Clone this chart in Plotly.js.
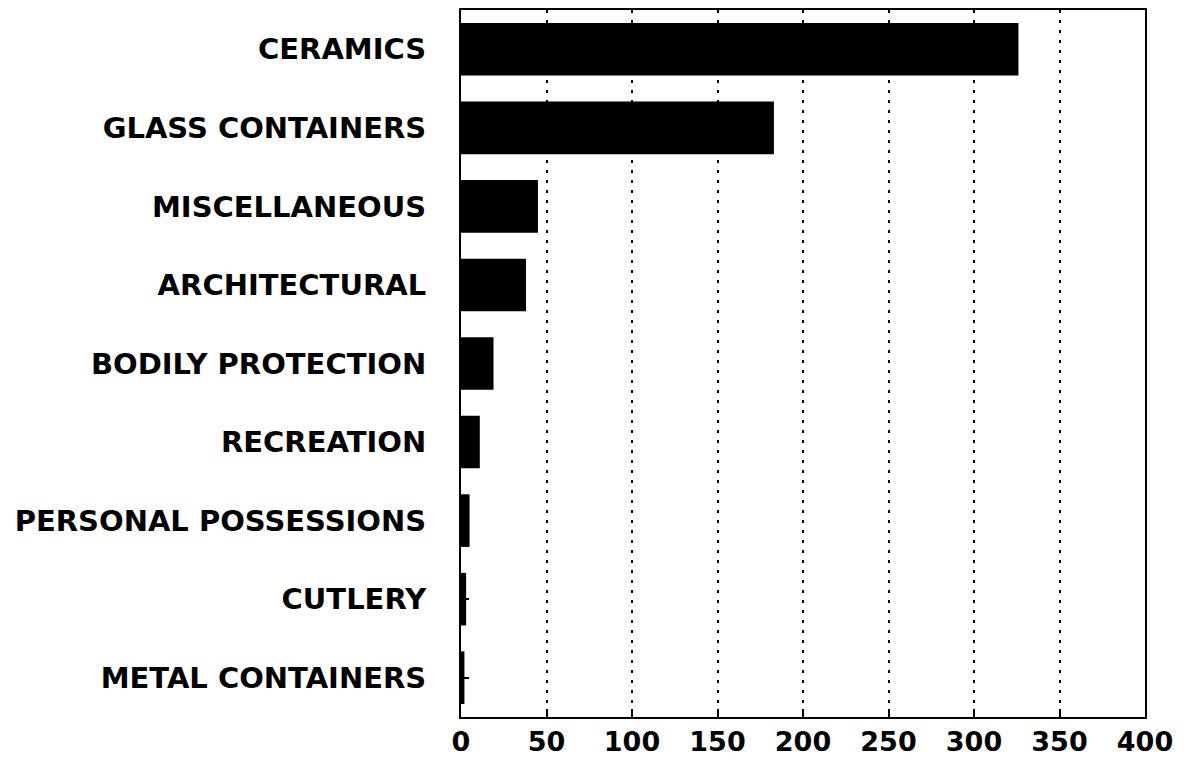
<!DOCTYPE html>
<html>
<head>
<meta charset="utf-8">
<script src="https://cdn.plot.ly/plotly-3.0.1.min.js"></script>
<style>html,body{margin:0;padding:0;background:#fff;}#chart{width:1188px;height:766px;}</style>
</head>
<body>
<div id="chart"></div>
<script>
const categories = ["CERAMICS","GLASS CONTAINERS","MISCELLANEOUS","ARCHITECTURAL","BODILY PROTECTION","RECREATION","PERSONAL POSSESSIONS","CUTLERY","METAL CONTAINERS"];
const counts = [326, 183, 45, 38, 19, 11, 5, 3, 2];
const xTicks = [0, 50, 100, 150, 200, 250, 300, 350, 400];

const trace = {
  type: 'bar',
  orientation: 'h',
  y: categories,
  x: counts,
  marker: {color: '#000', line: {width: 0}},
  width: 0.67,
  hoverinfo: 'x+y'
};

const FONT = 'DejaVu Sans, Liberation Sans, Arial, sans-serif';

const layout = {
  width: 1188, height: 766,
  margin: {l: 461, r: 43, t: 10, b: 49},
  paper_bgcolor: '#fff', plot_bgcolor: '#fff',
  showlegend: false,
  font: {family: FONT, color: '#000'},
  xaxis: {
    range: [0, 400],
    tickvals: xTicks,
    ticktext: xTicks.map(String),
    showgrid: true, gridcolor: '#000', gridwidth: 2, griddash: '3px,7px',
    zeroline: false,
    showline: true, linecolor: '#000', linewidth: 2, mirror: true,
    ticks: 'inside', ticklen: 8, tickwidth: 2, tickcolor: '#000',
    tickfont: {size: 27, family: FONT, weight: 'bold', color: '#000'},
    ticklabelstandoff: 0
  },
  yaxis: {
    autorange: false,
    range: [8.5, -0.5],
    showgrid: false, zeroline: false,
    showline: true, linecolor: '#000', linewidth: 2, mirror: true,
    ticks: 'inside', ticklen: 8, tickwidth: 2, tickcolor: '#000',
    tickfont: {size: 29, family: FONT, weight: 'bold', color: '#000'},
    ticklabelstandoff: 27
  }
};

Plotly.newPlot('chart', [trace], layout, {displayModeBar: false, staticPlot: true});
</script>
</body>
</html>
